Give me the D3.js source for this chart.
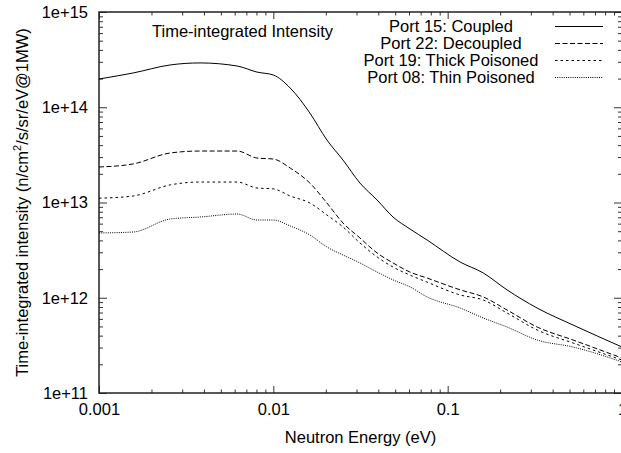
<!DOCTYPE html>
<html>
<head>
<meta charset="utf-8">
<script src="https://cdn.jsdelivr.net/npm/d3@7/dist/d3.min.js"></script>
<style>
  body { margin: 0; background: #fff; }
  svg { display: block; font-family: "Liberation Sans", Arial, Helvetica, sans-serif; }
</style>
</head>
<body>
<div class="canvas"></div>
<script>
// data (energy in eV, intensity in n/cm2/s/sr/eV@1MW)
const energy = [0.001, 0.00157, 0.00256, 0.0038, 0.0062, 0.00806, 0.01, 0.0125, 0.0162, 0.0203,
    0.0251, 0.0314, 0.0394, 0.0486, 0.0608, 0.0762, 0.118, 0.16, 0.219, 0.326, 0.524, 1.0];
const coupled = [1.98e14, 2.29e14, 2.78e14, 2.92e14, 2.71e14, 2.34e14, 2.18e14, 1.59e14, 8.7e13, 4.53e13,
    2.79e13, 1.60e13, 1.06e13, 7.04e12, 5.27e12, 4.04e12, 2.37e12, 1.82e12, 1.21e12, 7.8e11, 5.17e11, 3.04e11];
const decoupled = [2.36e13, 2.54e13, 3.31e13, 3.47e13, 3.47e13, 2.93e13, 2.86e13, 2.30e13, 1.60e13, 9.88e12,
    6.09e12, 4.24e12, 2.95e12, 2.32e12, 1.86e12, 1.61e12, 1.21e12, 1.02e12, 7.44e11, 4.93e11, 3.60e11, 2.33e11];
const thickPoisoned = [1.11e13, 1.17e13, 1.53e13, 1.64e13, 1.64e13, 1.42e13, 1.39e13, 1.17e13, 9.88e12, 7.39e12,
    5.53e12, 3.76e12, 2.68e12, 2.10e12, 1.73e12, 1.46e12, 1.07e12, 9.47e11, 6.92e11, 4.59e11, 3.35e11, 2.22e11];
const thinPoisoned = [4.79e12, 4.90e12, 6.71e12, 7.04e12, 7.57e12, 6.55e12, 6.55e12, 5.67e12, 4.56e12, 3.41e12,
    2.81e12, 2.32e12, 1.86e12, 1.54e12, 1.30e12, 1.02e12, 7.8e11, 6.13e11, 4.93e11, 3.60e11, 3.04e11, 2.12e11];

const seriesNames = ['Port 15: Coupled', 'Port 22: Decoupled', 'Port 19: Thick Poisoned', 'Port 08: Thin Poisoned'];
const xTickValues = [0.001, 0.01, 0.1, 1];
const xTickLabels = ['0.001', '0.01', '0.1', '1'];
const yTickValues = [1e11, 1e12, 1e13, 1e14, 1e15];
const yTickLabels = ['1e+11', '1e+12', '1e+13', '1e+14', '1e+15'];

const series = [coupled, decoupled, thickPoisoned, thinPoisoned];
const dashes = [null, '5,2.5', '2.5,3', '1,1.2'];

const svg = d3.select('.canvas')
    .append('svg')
    .attr('width', 621)
    .attr('height', 453);

const margin = { top: 12, left: 99 };
const graphWidth = 523;
const graphHeight = 381;

const graph = svg.append('g')
    .attr('transform', `translate(${margin.left}, ${margin.top})`);

const x = d3.scaleLog().domain([0.001, 1]).range([0, graphWidth]);
const y = d3.scaleLog().domain([1e11, 1e15]).range([graphHeight, 0]);

const isMajor = v => Math.abs(Math.log10(v) - Math.round(Math.log10(v))) < 1e-6;
const xMinor = x.ticks().filter(v => !isMajor(v));
const yMinor = y.ticks().filter(v => !isMajor(v));

// axes: major ticks with labels, minor ticks, mirrored on top and right
const fmtX = d => xTickLabels[xTickValues.indexOf(d)];
const fmtY = d => yTickLabels[yTickValues.indexOf(d)];

const axes = [
    graph.append('g').attr('transform', `translate(0, ${graphHeight})`)
        .call(d3.axisBottom(x).tickValues(xTickValues).tickFormat(fmtX).tickSizeInner(-7).tickSizeOuter(0).tickPadding(10)),
    graph.append('g').attr('transform', `translate(0, ${graphHeight})`)
        .call(d3.axisBottom(x).tickValues(xMinor).tickFormat('').tickSizeInner(-3.5).tickSizeOuter(0)),
    graph.append('g')
        .call(d3.axisTop(x).tickValues(xTickValues).tickFormat('').tickSizeInner(-7).tickSizeOuter(0)),
    graph.append('g')
        .call(d3.axisTop(x).tickValues(xMinor).tickFormat('').tickSizeInner(-3.5).tickSizeOuter(0)),
    graph.append('g')
        .call(d3.axisLeft(y).tickValues(yTickValues).tickFormat(fmtY).tickSizeInner(-8).tickSizeOuter(0).tickPadding(11)),
    graph.append('g')
        .call(d3.axisLeft(y).tickValues(yMinor).tickFormat('').tickSizeInner(-4).tickSizeOuter(0)),
    graph.append('g').attr('transform', `translate(${graphWidth}, 0)`)
        .call(d3.axisRight(y).tickValues(yTickValues).tickFormat('').tickSizeInner(-8).tickSizeOuter(0)),
    graph.append('g').attr('transform', `translate(${graphWidth}, 0)`)
        .call(d3.axisRight(y).tickValues(yMinor).tickFormat('').tickSizeInner(-4).tickSizeOuter(0))
];

axes.forEach(g => {
    g.select('.domain').remove();
    g.selectAll('line').attr('stroke', '#333').attr('stroke-width', 1);
    g.selectAll('text')
        .attr('fill', '#000')
        .attr('font-size', 16.5)
        .attr('font-family', '"Liberation Sans", Arial, sans-serif');
});

graph.append('rect')
    .attr('width', graphWidth)
    .attr('height', graphHeight)
    .attr('fill', 'none')
    .attr('stroke', '#222')
    .attr('stroke-width', 1.5);

// curves
const line = d3.line()
    .x(d => x(d[0]))
    .y(d => y(d[1]))
    .curve(d3.curveMonotoneX);

series.forEach((s, i) => {
    graph.append('path')
        .datum(energy.map((e, j) => [e, s[j]]))
        .attr('d', line)
        .attr('fill', 'none')
        .attr('stroke', '#000')
        .attr('stroke-width', 1)
        .attr('stroke-dasharray', dashes[i]);
});

// labels
svg.append('text')
    .attr('x', 152)
    .attr('y', 37)
    .attr('font-size', 16.5)
    .text('Time-integrated Intensity');

const legend = svg.append('g');
seriesNames.forEach((name, i) => {
    legend.append('text')
        .attr('x', 451)
        .attr('y', 32 + i * 17)
        .attr('text-anchor', 'middle')
        .attr('font-size', 16.5)
        .text(name);
    legend.append('line')
        .attr('x1', 555).attr('x2', 603)
        .attr('y1', 26.5 + i * 17).attr('y2', 26.5 + i * 17)
        .attr('stroke', '#000')
        .attr('stroke-width', 1)
        .attr('stroke-dasharray', dashes[i]);
});

svg.append('text')
    .attr('x', margin.left + graphWidth / 2)
    .attr('y', 443)
    .attr('text-anchor', 'middle')
    .attr('font-size', 16.5)
    .text('Neutron Energy (eV)');

const yTitle = svg.append('text')
    .attr('transform', `translate(28, ${margin.top + graphHeight / 2}) rotate(-90)`)
    .attr('text-anchor', 'middle')
    .attr('font-size', 16.5);
yTitle.append('tspan').text('Time-integrated intensity (n/cm');
yTitle.append('tspan').attr('font-size', 11).attr('dy', -7).text('2');
yTitle.append('tspan').attr('dy', 7).text('/s/sr/eV@1MW)');
</script>
</body>
</html>
